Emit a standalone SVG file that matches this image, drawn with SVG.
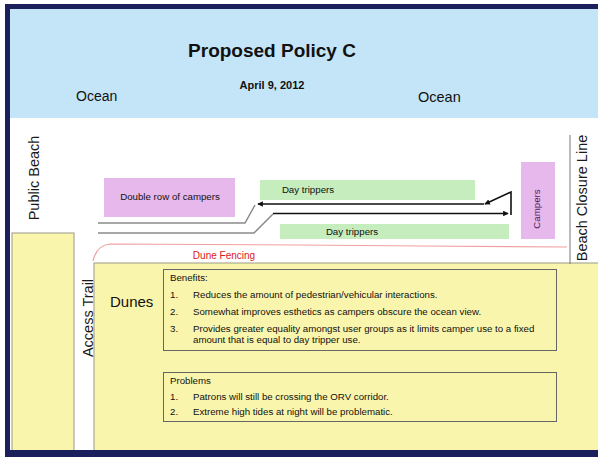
<svg xmlns="http://www.w3.org/2000/svg" width="598" height="457" viewBox="0 0 598 457">
<defs>
<style>
text{font-family:"Liberation Sans",Arial,sans-serif;fill:#111}
.lbl{font-size:14.5px;fill:#1a1a1a}
.sm{font-size:9.7px}
.bx{fill:none;stroke:#666;stroke-width:1}
.road{fill:none;stroke:#8a8a8a;stroke-width:1.5}
.flow{fill:none;stroke:#111;stroke-width:1.6}
.pink{fill:#e7b8ec}
.green{fill:#c6edbd}
.yel{fill:#faf5ac;stroke:#9a9a8a;stroke-width:1}
</style>
<marker id="ah" viewBox="0 0 8 8" refX="7" refY="4" markerWidth="3.5" markerHeight="3.5" orient="auto">
<path d="M0,0 L8,4 L0,8 z" fill="#111"/>
</marker>
</defs>
<rect x="0" y="0" width="598" height="457" fill="#ffffff"/>
<g id="ocean">
<rect x="8" y="8" width="590" height="110" fill="#c4e5f7"/>
<text x="272" y="57" font-size="19" font-weight="bold" text-anchor="middle">Proposed Policy C</text>
<text x="272" y="89" font-size="11" font-weight="bold" text-anchor="middle">April 9, 2012</text>
<text x="76" y="101" font-size="14">Ocean</text>
<text x="418" y="102" font-size="14.5">Ocean</text>
</g>
<g id="public-beach">
<text class="lbl" transform="translate(39,178) rotate(-90)" text-anchor="middle">Public Beach</text>
</g>
<g id="left-dune">
<rect class="yel" x="12" y="233" width="62" height="220"/>
</g>
<g id="dunes">
<rect class="yel" x="94" y="263" width="510" height="190"/>
<text x="110" y="307" font-size="15">Dunes</text>
</g>
<g id="access-trail">
<text class="lbl" transform="translate(93,318) rotate(-90)" text-anchor="middle">Access Trail</text>
</g>
<g id="dune-fencing">
<path d="M93,261 C95,252 99,245 110,244 L300,245 L420,246 L567,247" fill="none" stroke="#f0a0a0" stroke-width="1.2"/>
<text x="224" y="259" font-size="10" text-anchor="middle" style="fill:#e01818">Dune Fencing</text>
</g>
<g id="double-row">
<rect class="pink" x="104" y="178" width="131" height="39"/>
<text class="sm" x="170" y="200" text-anchor="middle">Double row of campers</text>
</g>
<g id="day-trippers-top">
<rect class="green" x="260" y="180" width="215" height="20"/>
<text class="sm" x="308" y="193" text-anchor="middle">Day trippers</text>
</g>
<g id="day-trippers-bottom">
<rect class="green" x="280" y="224" width="229" height="15"/>
<text class="sm" x="352" y="235" text-anchor="middle">Day trippers</text>
</g>
<g id="campers">
<rect class="pink" x="521" y="162" width="34" height="77"/>
<text class="sm" transform="translate(540,209) rotate(-90)" text-anchor="middle" style="fill:#4a2060">Campers</text>
</g>
<g id="beach-closure-line">
<line x1="570" y1="135" x2="570" y2="264" stroke="#777" stroke-width="1"/>
<text class="lbl" transform="translate(587,198) rotate(-90)" text-anchor="middle">Beach Closure Line</text>
</g>
<g id="connectors">
<path class="road" d="M98,223 L245,223 L255,205"/>
<path class="road" d="M98,233 L254,233 L273,214"/>
<path class="flow" d="M273,213.5 L508,213.5" marker-end="url(#ah)"/>
<path class="flow" d="M511,215 L511,192 L485,204" marker-end="url(#ah)"/>
<path class="flow" d="M484,204 L258,204" marker-end="url(#ah)"/>
</g>
<g id="benefits">
<rect class="bx" x="163.5" y="269.5" width="393" height="81"/>
<text class="sm" x="170" y="281">Benefits:</text>
<text class="sm" x="170" y="298">1.</text>
<text class="sm" x="193" y="298">Reduces the amount of pedestrian/vehicular interactions.</text>
<text class="sm" x="170" y="315">2.</text>
<text class="sm" x="193" y="315">Somewhat improves esthetics as campers obscure the ocean view.</text>
<text class="sm" x="170" y="332">3.</text>
<text class="sm" x="193" y="332">Provides greater equality amongst user groups as it limits camper use to a fixed</text>
<text class="sm" x="193" y="343">amount that is equal to day tripper use.</text>
</g>
<g id="problems">
<rect class="bx" x="163.5" y="372.5" width="393" height="49"/>
<text class="sm" x="170" y="384">Problems</text>
<text class="sm" x="170" y="400">1.</text>
<text class="sm" x="193" y="400">Patrons will still be crossing the ORV corridor.</text>
<text class="sm" x="170" y="415">2.</text>
<text class="sm" x="193" y="415">Extreme high tides at night will be problematic.</text>
</g>
<g id="frame">
<rect x="5" y="4" width="593" height="5" fill="#1b1f5c"/>
<rect x="5" y="4" width="5" height="453" fill="#1b1f5c"/>
<rect x="5" y="450" width="593" height="7" fill="#1b1f5c"/>
</g>
</svg>
